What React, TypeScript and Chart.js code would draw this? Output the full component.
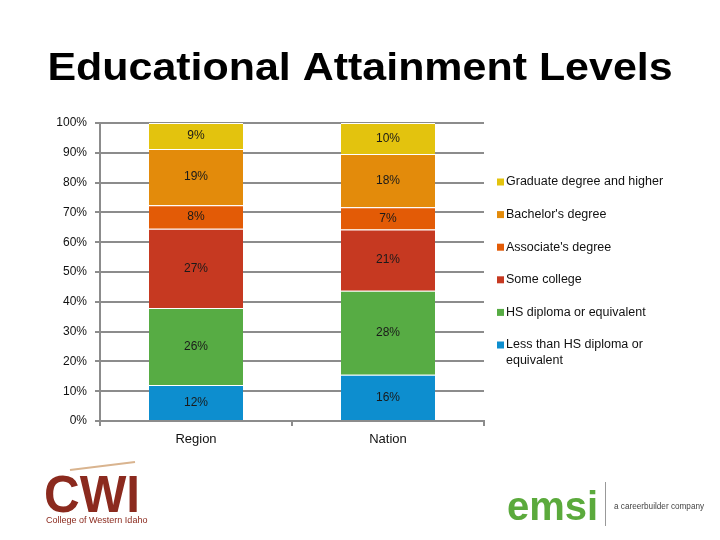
import React, { useEffect, useRef } from "react";
import { Chart, registerables } from "chart.js";

Chart.register(...registerables);

const categories = ["Region", "Nation"];
const seriesNames = [
  "Less than HS diploma or equivalent",
  "HS diploma or equivalent",
  "Some college",
  "Associate's degree",
  "Bachelor's degree",
  "Graduate degree and higher",
];
const lessThanHS = [12.1, 15.5];
const hsDiploma = [25.8, 28.2];
const someCollege = [26.6, 20.6];
const associates = [7.9, 7.4];
const bachelors = [18.9, 17.9];
const graduate = [8.7, 10.4];
const seriesColors = ["#0D8ECF", "#57AC44", "#C63921", "#E35B06", "#E38B0B", "#E3C30E"];
const yTicks = [0, 10, 20, 30, 40, 50, 60, 70, 80, 90, 100];

const FONT = "'Liberation Sans', Arial, sans-serif";

const labelsPlugin = {
  id: "segLabels",
  afterDatasetsDraw(chart: any) {
    const ctx = chart.ctx;
    ctx.save();
    ctx.font = `12px ${FONT}`;
    ctx.fillStyle = "#1a1a1a";
    ctx.textAlign = "center";
    ctx.textBaseline = "middle";
    chart.data.datasets.forEach((ds: any, i: number) => {
      const meta = chart.getDatasetMeta(i);
      meta.data.forEach((el: any, j: number) => {
        const v = ds.data[j];
        const y = (el.y + el.base) / 2;
        ctx.fillText(Math.round(v) + "%", el.x, y);
      });
    });
    ctx.restore();
  },
};

const decorPlugin = {
  id: "decor",
  afterDraw(chart: any) {
    const ctx = chart.ctx;
    const area = chart.chartArea;
    ctx.save();
    // Title
    ctx.fillStyle = "#000";
    ctx.font = `bold 38px ${FONT}`;
    ctx.textAlign = "center";
    ctx.textBaseline = "alphabetic";
    ctx.save();
    ctx.translate(360, 80);
    ctx.scale(1.13, 1);
    ctx.fillText("Educational Attainment Levels", 0, 0);
    ctx.restore();

    // Legend (reverse order)
    const ds = chart.data.datasets;
    const x0 = area.right + 13;
    let y = 182;
    ctx.font = `12.5px ${FONT}`;
    ctx.textAlign = "left";
    ctx.textBaseline = "middle";
    for (let i = ds.length - 1; i >= 0; i--) {
      ctx.fillStyle = ds[i].backgroundColor;
      ctx.fillRect(x0, y - 3.5, 7, 7);
      ctx.fillStyle = "#111";
      const lines = String(ds[i].label).length > 30
        ? ["Less than HS diploma or", "equivalent"]
        : [ds[i].label];
      lines.forEach((t: string, k: number) => ctx.fillText(t, x0 + 9, y + k * 16));
      y += 32.6;
    }

    // CWI logo approximation
    ctx.fillStyle = "#8B2A1E";
    ctx.font = `bold 52px ${FONT}`;
    ctx.textAlign = "left";
    ctx.textBaseline = "alphabetic";
    ctx.save();
    ctx.translate(44, 512);
    ctx.scale(0.95, 1);
    ctx.fillText("CWI", 0, 0);
    ctx.restore();
    ctx.font = `9px ${FONT}`;
    ctx.fillText("College of Western Idaho", 46, 523);
    ctx.strokeStyle = "#d9b48f";
    ctx.lineWidth = 2;
    ctx.beginPath();
    ctx.moveTo(70, 470);
    ctx.lineTo(135, 462);
    ctx.stroke();

    // emsi logo approximation
    ctx.fillStyle = "#5BAA3C";
    ctx.font = `bold 40px ${FONT}`;
    ctx.fillText("emsi", 507, 520);
    ctx.strokeStyle = "#999";
    ctx.lineWidth = 1;
    ctx.beginPath();
    ctx.moveTo(605.5, 482);
    ctx.lineTo(605.5, 526);
    ctx.stroke();
    ctx.fillStyle = "#444";
    ctx.font = `8.2px ${FONT}`;
    ctx.fillText("a careerbuilder company", 614, 509);
    ctx.restore();
  },
};

export default function App() {
  const ref = useRef<HTMLCanvasElement | null>(null);
  useEffect(() => {
    if (!ref.current) return;
    const allData = [lessThanHS, hsDiploma, someCollege, associates, bachelors, graduate];
    const chart = new Chart(ref.current, {
      type: "bar",
      data: {
        labels: categories,
        datasets: allData.map((d, i) => ({
          label: seriesNames[i],
          data: d,
          backgroundColor: seriesColors[i],
          borderColor: "#ffffff",
          borderWidth: { top: 1, left: 0, right: 0, bottom: 0 },
          borderSkipped: false,
          barPercentage: 1,
          categoryPercentage: 0.49,
        })),
      },
      options: {
        animation: false,
        responsive: false,
        layout: { padding: { left: 40, right: 236, top: 123, bottom: 89 } },
        plugins: { legend: { display: false }, title: { display: false }, tooltip: { enabled: false } },
        scales: {
          x: {
            stacked: true,
            afterFit: (s: any) => { s.height = 30; },
            grid: { offset: true, drawOnChartArea: false, drawTicks: true, tickLength: 5, color: "#8c8c8c", lineWidth: 2 },
            border: { color: "#8c8c8c", width: 2 },
            ticks: { color: "#111", font: { family: FONT, size: 13 }, padding: 6 },
          },
          y: {
            stacked: true,
            min: 0,
            max: 100,
            afterFit: (s: any) => { s.width = 60; },
            afterBuildTicks: (s: any) => { s.ticks = yTicks.map((v) => ({ value: v })); },
            grid: { color: "#8c8c8c", lineWidth: 2, tickLength: 5 },
            border: { color: "#8c8c8c", width: 2 },
            ticks: {
              color: "#111",
              font: { family: FONT, size: 12 },
              padding: 8,
              callback: (v: any) => v + "%",
            },
          },
        },
      },
      plugins: [labelsPlugin, decorPlugin],
    });
    return () => chart.destroy();
  }, []);
  return (
    <div style={{ position: "fixed", left: 0, top: 0, width: 720, height: 540, background: "#fff" }}>
      <canvas ref={ref} width={720} height={540} style={{ width: 720, height: 540, display: "block" }} />
    </div>
  );
}
